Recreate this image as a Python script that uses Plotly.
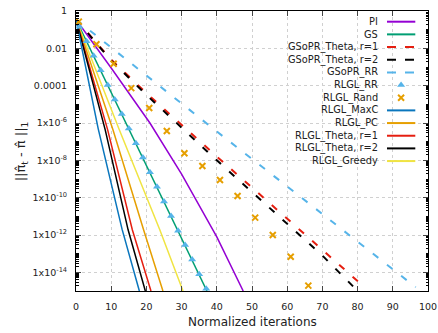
import plotly.graph_objects as go

# ---------------- data ----------------
pi_x = [0, 10, 21, 30, 40, 47.5]
pi_y = [3.5e-1, 8.9e-4, 1e-6, 1.8e-9, 7.9e-13, 1e-15]

gs_x = [0, 10, 20, 30, 37.2]
gs_y = [3.5e-1, 4.5e-5, 5.6e-9, 7.1e-13, 1e-15]

gsopr_t1_x = [0, 10, 20, 30, 40, 50, 60, 70, 80.5]
gsopr_t1_y = [3.5e-1, 2.5e-3, 4e-5, 7.9e-7, 1.6e-8, 3.5e-10, 7.9e-12, 1.6e-13, 2.8e-15]

gsopr_t2_x = [0, 10, 20, 30, 40, 50, 60, 70, 79.5]
gsopr_t2_y = [3.5e-1, 2.2e-3, 3.2e-5, 5.6e-7, 1e-8, 2e-10, 4e-12, 7.9e-14, 1.26e-15]

gsopr_rr_x = [0, 20, 40, 60, 80, 96.5]
gsopr_rr_y = [3.5e-1, 3.5e-4, 3.5e-7, 4e-10, 4.5e-13, 1.6e-15]

rlgl_rr_x = [1, 3, 5, 7, 9, 11, 13, 15, 17, 19, 21, 23, 25, 27, 29, 31, 33, 35, 37]
rlgl_rr_y = [1.45e-1, 2.4e-2, 4e-3, 6.6e-4, 1.1e-4, 1.8e-5, 3e-6, 5e-7, 8.3e-8, 1.4e-8,
             2.3e-9, 3.8e-10, 6.3e-11, 1.05e-11, 1.7e-12, 2.9e-13, 4.8e-14, 7.9e-15, 1.3e-15]

rlgl_rand_x = [0.8, 5.8, 10.7, 15.7, 20.8, 25.8, 30.8, 35.9, 40.9, 45.9, 50.9, 55.9, 61, 66]
rlgl_rand_y = [2.7e-1, 1.66e-2, 1.5e-3, 7.4e-5, 6.3e-6, 3.7e-7, 2.4e-8, 5e-9, 8.9e-10,
               1.23e-10, 8.5e-12, 1e-12, 6.9e-14, 1.95e-15]

maxc_x = [0, 6.3, 13.1, 18]
maxc_y = [3.5e-1, 5e-7, 2e-12, 1e-15]

pc_x = [0, 10.5, 19.2, 24.7]
pc_y = [3.5e-1, 4.3e-7, 1.9e-12, 1e-15]

theta1_x = [0, 9, 16, 21.3]
theta1_y = [3.5e-1, 4.3e-7, 1.9e-12, 1e-15]

theta2_x = [0, 8.3, 14.8, 19.7]
theta2_y = [3.5e-1, 4.3e-7, 1.9e-12, 1e-15]

greedy_x = [0, 12.3, 23.8, 30.4]
greedy_y = [3.5e-1, 4.3e-7, 1.9e-12, 1e-15]

y_tickvals = [1, 1e-2, 1e-4, 1e-6, 1e-8, 1e-10, 1e-12, 1e-14]
y_ticktext = ["1", "0.01", "0.0001", "1x10<sup>-6</sup>", "1x10<sup>-8</sup>",
              "1x10<sup>-10</sup>", "1x10<sup>-12</sup>", "1x10<sup>-14</sup>"]
x_tickvals = [0, 10, 20, 30, 40, 50, 60, 70, 80, 90, 100]

legend_names = ["PI", "GS", "GSoPR_Theta, r=1", "GSoPR_Theta, r=2", "GSoPR_RR",
                "RLGL_RR", "RLGL_Rand", "RLGL_MaxC", "RLGL_PC",
                "RLGL_Theta, r=1", "RLGL_Theta, r=2", "RLGL_Greedy"]

# ---------------- styles ----------------
PURPLE = "#9400d3"
GREEN = "#009e73"
LBLUE = "#56b4e9"
ORANGE = "#e69f00"
YELLOW = "#f0e442"
BLUE = "#0a76bd"
RED = "#e51e10"
BLACK = "#000000"
TXT = "#222222"
FONT = "DejaVu Sans"
DASH_DATA = "7px,11px"

fig = go.Figure()

def line(x, y, color, dash="solid", width=1.5):
    fig.add_trace(go.Scatter(x=x, y=y, mode="lines", showlegend=False,
                             line=dict(color=color, width=width, dash=dash)))

line(gsopr_rr_x, gsopr_rr_y, LBLUE, DASH_DATA, 2)
line(gsopr_t1_x, gsopr_t1_y, RED, DASH_DATA, 2)
line(gsopr_t2_x, gsopr_t2_y, BLACK, DASH_DATA, 2)
line(pi_x, pi_y, PURPLE)
line(gs_x, gs_y, GREEN)
line(greedy_x, greedy_y, YELLOW)
line(pc_x, pc_y, ORANGE)
line(theta1_x, theta1_y, RED)
line(theta2_x, theta2_y, BLACK)
line(maxc_x, maxc_y, BLUE)

fig.add_trace(go.Scatter(x=rlgl_rr_x, y=rlgl_rr_y, mode="markers", showlegend=False,
                         marker=dict(symbol="triangle-up", size=7, color=LBLUE)))
fig.add_trace(go.Scatter(x=rlgl_rand_x, y=rlgl_rand_y, mode="markers", showlegend=False,
                         marker=dict(symbol="x-thin", size=6, color=ORANGE,
                                     line=dict(color=ORANGE, width=2))))

# ---------------- custom legend (text right-aligned, sample to its right) ----------------
X0, X1, Y0, Y1 = 75.7, 427.7, 11.0, 291.0

def px2x(px):
    return (px - X0) / (X1 - X0)

def py2y(py):
    return (Y1 - py) / (Y1 - Y0)

leg_styles = [
    ("line", PURPLE, "solid"), ("line", GREEN, "solid"), ("line", RED, "9px,9px"),
    ("line", BLACK, "9px,9px"), ("line", LBLUE, "9px,9px"), ("tri", LBLUE, None),
    ("x", ORANGE, None), ("line", BLUE, "solid"), ("line", ORANGE, "solid"),
    ("line", RED, "solid"), ("line", BLACK, "solid"), ("line", YELLOW, "solid"),
]
shapes = []
annotations = []
mk_tri = []
mk_x = []
for i, (name, st) in enumerate(zip(legend_names, leg_styles)):
    ypx = 21.7 + i * 12.67
    yy = py2y(ypx)
    annotations.append(dict(x=px2x(380), y=yy, xref="paper", yref="paper",
                            text=name, showarrow=False, xanchor="right", yanchor="middle",
                            font=dict(family=FONT, size=9.8, color=TXT)))
    kind, col, dash = st
    if kind == "line":
        shapes.append(dict(type="line", xref="paper", yref="paper",
                           x0=px2x(386.7), x1=px2x(415), y0=yy, y1=yy,
                           line=dict(color=col, width=2, dash=dash)))
    elif kind == "tri":
        mk_tri.append(yy)
    else:
        mk_x.append(yy)

fig.add_trace(go.Scatter(x=[px2x(400.8)] * len(mk_tri), y=mk_tri, xaxis="x2", yaxis="y2",
                         mode="markers", showlegend=False,
                         marker=dict(symbol="triangle-up", size=7, color=LBLUE)))
fig.add_trace(go.Scatter(x=[px2x(400.8)] * len(mk_x), y=mk_x, xaxis="x2", yaxis="y2",
                         mode="markers", showlegend=False,
                         marker=dict(symbol="x-thin", size=6, color=ORANGE,
                                     line=dict(color=ORANGE, width=2))))

# axis titles
annotations.append(dict(x=px2x(251.7), y=py2y(322), xref="paper", yref="paper",
                        text="Normalized iterations", showarrow=False,
                        xanchor="center", yanchor="middle",
                        font=dict(family=FONT, size=12, color=TXT)))
annotations.append(dict(x=px2x(21), y=py2y(151), xref="paper", yref="paper",
                        text="||π̂<sub>t</sub> - π̂ ||<sub>1</sub>", showarrow=False,
                        textangle=-90, xanchor="center", yanchor="middle",
                        font=dict(family=FONT, size=13, color=TXT)))

minor_y = [k * 10.0 ** e for e in range(-15, 1) for k in range(1, 10)
           if not (k == 1 and e % 2 == 0)]
minor_y = [v for v in minor_y if 1e-15 <= v <= 1]

fig.update_layout(
    width=438, height=333,
    margin=dict(l=X0, r=438 - X1, t=Y0, b=333 - Y1),
    paper_bgcolor="white", plot_bgcolor="white",
    font=dict(family=FONT, size=10, color=TXT),
    shapes=shapes, annotations=annotations,
    xaxis=dict(range=[0, 100], tickvals=x_tickvals, ticks="inside", ticklen=5,
               showline=True, linecolor="black", linewidth=1, mirror="ticks",
               showgrid=True, gridcolor="#d0d0d0", griddash="dot", gridwidth=1,
               zeroline=False, ticklabelstandoff=7, automargin=False,
               tickfont=dict(family=FONT, size=9.5, color=TXT)),
    yaxis=dict(type="log", range=[-15, 0], tickvals=y_tickvals, ticktext=y_ticktext,
               ticks="inside", ticklen=5, showline=True, linecolor="black", linewidth=1,
               mirror="ticks", showgrid=True, gridcolor="#d0d0d0", griddash="dot",
               gridwidth=1, zeroline=False, ticklabelstandoff=6, automargin=False,
               tickfont=dict(family=FONT, size=9.5, color=TXT),
               minor=dict(tickmode="array", tickvals=minor_y, ticks="inside",
                          ticklen=2.5, tickcolor="black", showgrid=False)),
    xaxis2=dict(overlaying="x", range=[0, 1], visible=False),
    yaxis2=dict(overlaying="y", range=[0, 1], visible=False),
)

fig.write_html("out.html")
